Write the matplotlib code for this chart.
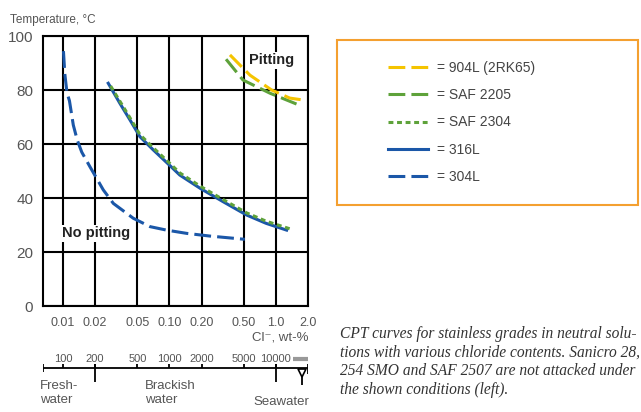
import matplotlib
matplotlib.use("Agg")
import matplotlib.pyplot as plt
from matplotlib.patches import Rectangle

plt.rcParams['font.family'] = ['Liberation Sans', 'DejaVu Sans']

# chloride content, wt-% (x) and critical pitting temperature, C (y)
x_904l = [0.37, 0.57, 0.91, 1.35, 1.8]
y_904l = [93, 85.5, 80, 77, 76.3]

x_2205 = [0.34, 0.49, 0.88, 1.56]
y_2205 = [91.4, 83.7, 78.8, 74.8]

x_2304 = [0.028, 0.0343, 0.0426, 0.0528, 0.0705, 0.101, 0.125, 0.194, 0.32, 0.53, 0.81, 1.4]
y_2304 = [81.5, 75.8, 69.7, 63.5, 58.6, 52.8, 49.3, 44.4, 39.4, 34.5, 31.4, 28.4]

x_316l = [0.0266, 0.0343, 0.0426, 0.0528, 0.0705, 0.101, 0.125, 0.194, 0.32, 0.53, 0.81, 1.26]
y_316l = [82.5, 75, 68.9, 62.7, 57.8, 52, 48.5, 43.6, 38.6, 33.7, 30.6, 28.1]

x_304l = [0.0101, 0.0104, 0.0109, 0.0115, 0.0125, 0.0136, 0.0150, 0.0179, 0.0239,
          0.0297, 0.0457, 0.0656, 0.094, 0.145, 0.24, 0.51]
y_304l = [94.4, 86, 79, 76, 67, 61.5, 57, 51.6, 43, 38, 32.5, 29.4, 28.1, 26.9, 25.9, 24.7]

wt_ticks = [0.01, 0.02, 0.05, 0.10, 0.20, 0.50, 1.0, 2.0]
wt_labels = ["0.01", "0.02", "0.05", "0.10", "0.20", "0.50", "1.0", "2.0"]
ppm_ticks = [100, 200, 500, 1000, 2000, 5000, 10000]
ppm_labels = ["100", "200", "500", "1000", "2000", "5000", "10000"]
seawater_ppm = 17500
seawater_band = [14500, 20000]

yellow = "#f5c400"
green = "#5ea23a"
blue = "#1b57a8"
grey_txt = "#555555"

fig = plt.figure(figsize=(6.41, 4.12), dpi=100)
ax = fig.add_axes([43 / 641, 1 - 306 / 412, 265 / 641, 270 / 412])

lw = 2.2
ax.plot(x_904l, y_904l, color=yellow, lw=lw, dashes=(5.5, 2.0), label="= 904L (2RK65)", zorder=4)
ax.plot(x_2205, y_2205, color=green, lw=lw, dashes=(5.5, 2.0), label="= SAF 2205", zorder=3)
ax.plot(x_316l, y_316l, color=blue, lw=lw, label="= 316L", zorder=3)
ax.plot(x_2304, y_2304, color=green, lw=lw, dashes=(1.6, 1.2), label="= SAF 2304", zorder=4)
ax.plot(x_304l, y_304l, color=blue, lw=lw, dashes=(5.5, 2.0), label="= 304L", zorder=3)

ax.set_xscale("log")
ax.set_xlim(0.00649, 2.0)
ax.set_ylim(0, 100)
ax.set_xticks(wt_ticks, wt_labels)
ax.xaxis.set_minor_locator(matplotlib.ticker.NullLocator())
ax.set_yticks([0, 20, 40, 60, 80, 100])
ax.tick_params(axis="x", length=0, pad=8, labelsize=9, labelcolor=grey_txt)
ax.tick_params(axis="y", length=0, pad=7, labelsize=11, labelcolor=grey_txt)
ax.grid(True, color="black", lw=1.5)
ax.set_axisbelow(True)
for s in ax.spines.values():
    s.set_linewidth(1.5)

ax.text(0.0098, 27, "No pitting", fontsize=10.5, fontweight="bold", color="#222222",
        va="center", ha="left", bbox=dict(facecolor="white", edgecolor="none", pad=1), zorder=5)
ax.text(0.56, 91, "Pitting", fontsize=10.5, fontweight="bold", color="#222222",
        va="center", ha="left", bbox=dict(facecolor="white", edgecolor="none", pad=1), zorder=5)

fig.text(10 / 641, 1 - 20 / 412, "Temperature, \u00b0C", fontsize=8.5, color=grey_txt, va="center")
fig.text(308 / 641, 1 - 337 / 412, "Cl\u207b, wt-%", fontsize=9.5, color=grey_txt, va="center", ha="right")

# ppm scale underneath
ax2 = fig.add_axes([43 / 641, 0, 265 / 641, 72 / 412])
ax2.set_xscale("log")
ax2.set_xlim(0.00649 * 1e4, 2.0 * 1e4)
ax2.set_ylim(412, 340)
ax2.axis("off")
ax2.axhline(368, color="black", lw=1.3)
ax2.vlines(ppm_ticks, 364, 368, color="black", lw=1.3)
ax2.vlines([200, 10000], 364, 382, color="black", lw=1.3)
ax2.vlines([0.00649 * 1e4], 364, 372, color="black", lw=1.3)
ax2.vlines([2.0 * 1e4], 364, 374, color="black", lw=1.3)
ax2.vlines([seawater_ppm], 374, 385, color="black", lw=1.3)
ax2.plot([seawater_ppm], [373], marker="v", ms=6, mfc="white", mec="black", mew=1.2)
ax2.hlines(359, seawater_band[0], seawater_band[1], color="#999999", lw=3)
for p, lab in zip(ppm_ticks, ppm_labels):
    ax2.text(p, 359, lab, fontsize=8, color=grey_txt, ha="center", va="center")
fig.text(40 / 641, 1 - 380 / 412, "Fresh-\nwater", fontsize=9.5, color=grey_txt, va="top", ha="left",
         linespacing=1.2)
fig.text(145 / 641, 1 - 380 / 412, "Brackish\nwater", fontsize=9.5, color=grey_txt, va="top", ha="left",
         linespacing=1.2)
fig.text(309 / 641, 1 - 396 / 412, "Seawater", fontsize=9.5, color=grey_txt, va="top", ha="right")

# legend box
fig.patches.append(Rectangle((337 / 641, 1 - 205 / 412), 301 / 641, 165 / 412, transform=fig.transFigure,
                             facecolor="none", edgecolor="#f4a030", lw=1.5))
h, l = ax.get_legend_handles_labels()
order = [0, 1, 3, 2, 4]
fig.legend([h[i] for i in order], [l[i] for i in order], loc="upper left",
           bbox_to_anchor=(388 / 641, 1 - 61 / 412), frameon=False, fontsize=10,
           handlelength=2.9, handletextpad=0.6, labelspacing=0.95, borderpad=0, borderaxespad=0,
           labelcolor="#444444")

caption = ["CPT curves for stainless grades in neutral solu-",
           "tions with various chloride contents. Sanicro 28,",
           "254 SMO and SAF 2507 are not attacked under",
           "the shown conditions (left)."]
for i, line in enumerate(caption):
    fig.text(340 / 641, 1 - (334 + 18.7 * i) / 412, line, fontsize=11.2, family="Liberation Serif",
             style="italic", color="#333333", va="center", ha="left")

fig.savefig("out.png", dpi=100)
